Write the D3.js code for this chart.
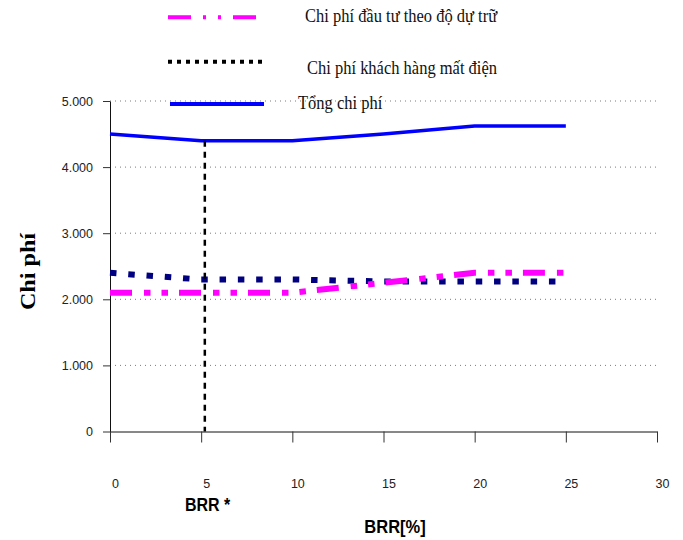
<!DOCTYPE html>
<html>
<head>
<meta charset="utf-8">
<script src="https://cdn.jsdelivr.net/npm/d3@7/dist/d3.min.js"></script>
<style>
  body { margin: 0; background: #fff; }
</style>
</head>
<body>
<svg id="chart" width="683" height="540"></svg>
<script>
// BRR [%] values on the x axis
var brr = [0, 5, 10, 15, 20, 25];
// cost series
var chiPhiDauTu = [2100, 2100, 2100, 2250, 2400, 2400];
var chiPhiMatDien = [2400, 2300, 2300, 2270, 2270, 2270];
var tongChiPhi = [4500, 4400, 4400, 4500, 4620, 4620];
// ticks
var xTicks = [0, 5, 10, 15, 20, 25, 30];
var yTicks = [0, 1000, 2000, 3000, 4000, 5000];
var gridTicks = [1000, 2000, 3000, 4000, 5000];
// optimal BRR marker
var brrStar = 5.2;
var brrStarCost = 4400;
var legendLabels = ["Chi phí đầu tư theo độ dự trữ", "Chi phí khách hàng mất điện", "Tổng chi phí"];

var svg = d3.select("#chart");
var stretch = 1.15; // the original picture is a bit taller than wide

var x = d3.scaleLinear().domain([0, 30]).range([110, 657]);
var y = d3.scaleLinear().domain([0, 5000]).range([431.5, 101]);

var fmt = d3.formatLocale({decimal: ",", thousands: ".", grouping: [3], currency: ["", ""]}).format(",");

// grid lines (dotted)
svg.append("g").selectAll("line")
  .data(gridTicks)
  .enter().append("line")
  .attr("x1", x(0)).attr("x2", x(30))
  .attr("y1", function (d) { return y(d); })
  .attr("y2", function (d) { return y(d); })
  .attr("stroke", "#7a7a7a")
  .attr("stroke-width", 1)
  .attr("stroke-dasharray", "1,4");

// y axis
var yAxis = svg.append("g")
  .attr("transform", "translate(" + x(0) + ",0)")
  .call(d3.axisLeft(y).tickValues(yTicks).tickFormat(fmt).tickSize(7).tickPadding(10).tickSizeOuter(0));
yAxis.selectAll("text")
  .style("font-family", "'Liberation Sans', Arial, sans-serif")
  .style("font-size", "12.5px")
  .attr("fill", "#222");

// x axis
var xAxis = svg.append("g")
  .attr("transform", "translate(0," + y(0) + ")")
  .call(d3.axisBottom(x).tickValues(xTicks).tickSize(11).tickSizeOuter(0));
xAxis.selectAll("text")
  .attr("y", 48)
  .attr("dx", 5)
  .style("font-family", "'Liberation Sans', Arial, sans-serif")
  .style("font-size", "12.5px")
  .attr("fill", "#222");

svg.selectAll(".domain").attr("stroke", "#111");
svg.selectAll(".tick line").attr("stroke", "#333");

// lines
var pts = function (vals) {
  return brr.map(function (b, i) { return [b, vals[i]]; });
};
var line = d3.line()
  .x(function (d) { return x(d[0]); })
  .y(function (d) { return y(d[1]); });

svg.append("path")
  .datum(pts(chiPhiMatDien))
  .attr("d", line)
  .attr("fill", "none")
  .attr("stroke", "#000080")
  .attr("stroke-width", 6)
  .attr("stroke-dasharray", "6.5,11.8");

svg.append("path")
  .datum(pts(chiPhiDauTu))
  .attr("d", line)
  .attr("fill", "none")
  .attr("stroke", "#ff00ff")
  .attr("stroke-width", 6)
  .attr("stroke-dasharray", "22,12,6.5,11,6.5,11");

svg.append("path")
  .datum(pts(tongChiPhi))
  .attr("d", line)
  .attr("fill", "none")
  .attr("stroke", "#0000ff")
  .attr("stroke-width", 3.5)
  .attr("stroke-linejoin", "round");

// BRR* vertical marker
svg.append("line")
  .attr("x1", x(brrStar)).attr("x2", x(brrStar))
  .attr("y1", y(brrStarCost)).attr("y2", y(0))
  .attr("stroke", "#000")
  .attr("stroke-width", 2.5)
  .attr("stroke-dasharray", "6,5");

// legend
var legend = [
  {y: 17.3, x1: 168, x2: 257, color: "#ff00ff", dash: "23,12,3,12,3,12", tx: 305, ty: 22},
  {y: 61.7, x1: 168, x2: 262, color: "#000", dash: "4,5", tx: 307, ty: 74},
  {y: 104, x1: 170, x2: 264, color: "#0000ff", dash: null, tx: 298, ty: 109}
];
legend.forEach(function (d, i) {
  svg.append("line")
    .attr("x1", d.x1).attr("x2", d.x2)
    .attr("y1", d.y).attr("y2", d.y)
    .attr("stroke", d.color)
    .attr("stroke-width", 4)
    .attr("stroke-dasharray", d.dash);
  svg.append("text")
    .attr("transform", "translate(" + d.tx + "," + d.ty + ") scale(1," + stretch + ")")
    .style("font-family", "'Liberation Serif', 'Times New Roman', serif")
    .style("font-size", "16.5px")
    .attr("fill", "#111")
    .text(legendLabels[i]);
});

// axis titles
svg.append("text")
  .attr("transform", "translate(35,271.5) scale(1," + stretch + ") rotate(-90)")
  .attr("text-anchor", "middle")
  .style("font-family", "'Liberation Serif', 'Times New Roman', serif")
  .style("font-size", "21px")
  .style("font-weight", "bold")
  .attr("fill", "#000")
  .text("Chi phí");

svg.append("text")
  .attr("transform", "translate(185,511) scale(1," + stretch + ")")
  .style("font-family", "'Liberation Sans', Arial, sans-serif")
  .style("font-size", "16px")
  .style("font-weight", "bold")
  .attr("fill", "#000")
  .text("BRR *");

svg.append("text")
  .attr("transform", "translate(395,533) scale(1," + stretch + ")")
  .attr("text-anchor", "middle")
  .style("font-family", "'Liberation Sans', Arial, sans-serif")
  .style("font-size", "16.5px")
  .style("font-weight", "bold")
  .attr("fill", "#000")
  .text("BRR[%]");
</script>
</body>
</html>
